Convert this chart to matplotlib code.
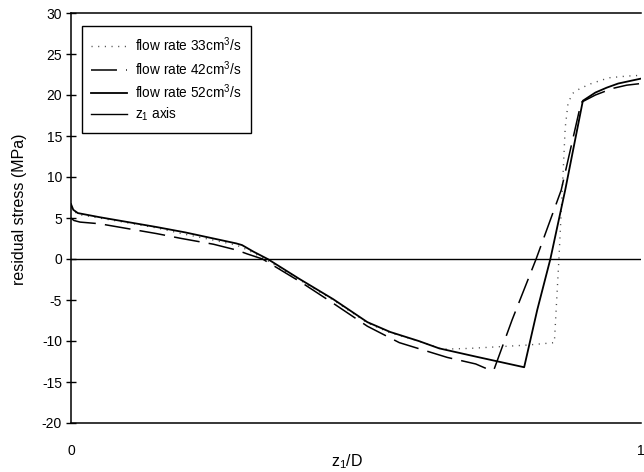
import matplotlib.pyplot as plt

plt.rcParams['font.family'] = ['Liberation Sans', 'DejaVu Sans']
plt.rcParams['axes.unicode_minus'] = False
plt.rcParams['mathtext.default'] = 'regular'

# residual stress profiles along z1/D for the three flow rates
x33 = [0.0, 0.005, 0.015, 0.05, 0.10, 0.15, 0.194, 0.25, 0.29, 0.31, 0.34, 0.40, 0.46,
       0.52, 0.56, 0.61, 0.651, 0.70, 0.75, 0.80, 0.848, 0.856, 0.863, 0.867, 0.872,
       0.88, 0.891, 0.909, 0.926, 0.944, 0.974, 1.0]
y33 = [6.3, 5.8, 5.4, 5.0, 4.4, 3.8, 3.1, 2.3, 1.7, 1.1, 0.0, -2.5, -5.0,
       -7.8, -9.0, -10.0, -11.0, -10.9, -10.7, -10.5, -10.2, 0.0, 10.0, 16.0, 19.0,
       20.2, 20.7, 21.3, 21.7, 22.1, 22.3, 22.4]

x42 = [0.0, 0.005, 0.016, 0.05, 0.10, 0.15, 0.194, 0.25, 0.29, 0.31, 0.336, 0.405, 0.46,
       0.52, 0.576, 0.66, 0.71, 0.73, 0.742, 0.774, 0.816, 0.86, 0.895, 0.92, 0.95,
       0.975, 1.0]
y42 = [5.0, 4.7, 4.5, 4.3, 3.7, 3.1, 2.5, 1.8, 1.1, 0.6, 0.0, -2.9, -5.4,
       -8.2, -10.2, -12.0, -12.8, -13.4, -13.5, -7.4, 0.0, 8.4, 19.1, 20.0, 20.8,
       21.2, 21.4]

x52 = [0.0, 0.004, 0.012, 0.05, 0.10, 0.15, 0.20, 0.25, 0.29, 0.30, 0.32, 0.345, 0.40,
       0.46, 0.52, 0.56, 0.61, 0.646, 0.71, 0.795, 0.818, 0.841, 0.867, 0.898, 0.92,
       0.94, 0.96, 0.98, 1.0]
y52 = [6.7, 6.0, 5.6, 5.1, 4.5, 3.9, 3.25, 2.5, 1.9, 1.7, 0.9, 0.0, -2.4,
       -4.9, -7.7, -8.9, -10.0, -10.9, -11.9, -13.2, -6.2, 0.0, 8.4, 19.3, 20.3,
       20.9, 21.4, 21.7, 22.0]

axis_x = [0.0, 1.0]
axis_y = [0.0, 0.0]

labels = ['flow rate 33cm$^3$/s', 'flow rate 42cm$^3$/s', 'flow rate 52cm$^3$/s', 'z$_1$ axis']

fig = plt.figure(figsize=(6.44, 4.72), dpi=100)
ax = fig.add_axes([71 / 644, 1 - 423 / 472, 570 / 644, 410 / 472])

ax.plot(x33, y33, color='0.3', lw=1.0, linestyle=(0, (0.8, 4.0)), label=labels[0])
ax.plot(x42, y42, color='black', lw=1.1, linestyle=(0, (17, 6)), label=labels[1])
ax.plot(x52, y52, color='black', lw=1.3, label=labels[2])
ax.plot(axis_x, axis_y, color='black', lw=1.0, label=labels[3])

ax.set_xlim(0, 1)
ax.set_ylim(-20, 30)
ax.set_yticks(range(-20, 31, 5))
ax.set_xticks([0, 1])
ax.tick_params(axis='y', direction='inout', length=7, width=1, labelsize=10, pad=3)
ax.tick_params(axis='x', length=0, labelsize=10, pad=15)

for side in ['left', 'top', 'bottom']:
    ax.spines[side].set_linewidth(1.1)
ax.spines['right'].set_visible(False)

ax.set_ylabel('residual stress (MPa)', fontsize=11.5)
ax.yaxis.set_label_coords(-0.077, 0.522)
ax.set_xlabel('z$_1$/D', fontsize=11.5)
ax.xaxis.set_label_coords(0.484, -0.071)

leg = ax.legend(loc='upper left', bbox_to_anchor=(0.019, 0.968), borderaxespad=0,
                fontsize=9.8, frameon=True, fancybox=False, framealpha=1,
                edgecolor='black', handlelength=2.6, handletextpad=0.6,
                borderpad=0.7, labelspacing=0.35)
leg.get_frame().set_linewidth(1.0)

fig.savefig('out.png', dpi=100)
